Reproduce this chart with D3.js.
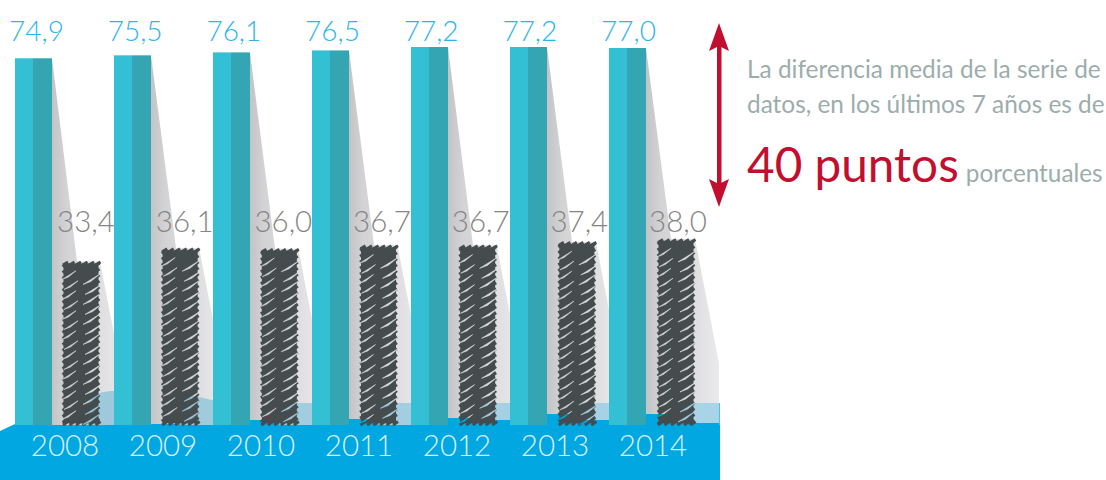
<!DOCTYPE html>
<html>
    <head>
        <meta charset="utf-8">
        <style>
          html, body { margin: 0; padding: 0; background: #fff; }
          svg { display: block; }
          text { font-family: Lato, "Open Sans", sans-serif; }
        </style>
    </head>
    <body>
        <svg width="1106" height="480"></svg>
        <script src="https://d3js.org/d3.v7.min.js"></script>
        <script>
          var years = ["2008", "2009", "2010", "2011", "2012", "2013", "2014"];
          var topValues = [74.9, 75.5, 76.1, 76.5, 77.2, 77.2, 77.0];
          var lowValues = [33.4, 36.1, 36.0, 36.7, 36.7, 37.4, 38.0];
          // ground level seen left and right of each dark column, in pixels
          var floorLeft = [425, 424, 420, 419, 418, 414, 414];
          var floorRight = [425, 425, 425, 425, 420, 420, 423];

          var svg = d3.select("svg");
          var fmt = function(v) { return v.toFixed(1).replace(".", ","); };

          // Scales
          var x = d3.scalePoint().domain(years).range([15, 609]);
          var xLow = d3.scalePoint().domain(years).range([62, 657]);
          var xYear = d3.scalePoint().domain(years).range([65, 653]);
          var xTopLabel = d3.scalePoint().domain(years).range([36.5, 628.5]);
          var xLowLabel = d3.scalePoint().domain(years).range([86, 678]);
          var y = d3.scaleLinear().domain([0, 77.2]).range([425, 47]);

          var barW = 37, lowW = 38;
          var defs = svg.append("defs");

          var grad = defs.append("linearGradient").attr("id", "shade");
          grad.append("stop").attr("offset", 0).attr("stop-color", "#c3c4c6");
          grad.append("stop").attr("offset", 0.2).attr("stop-color", "#d3d3d5");
          grad.append("stop").attr("offset", 0.7).attr("stop-color", "#e0e0e2");
          grad.append("stop").attr("offset", 1).attr("stop-color", "#eaeaec");

          var lightGrad = defs.append("linearGradient").attr("id", "water");
          lightGrad.append("stop").attr("offset", 0).attr("stop-color", "#9ec9db");
          lightGrad.append("stop").attr("offset", 1).attr("stop-color", "#a9d3e6");

          // Shadows of both columns, one polygon per year
          svg.append("g").selectAll("path").data(years).join("path")
              .attr("fill", "url(#shade)")
              .attr("d", function(d, i) {
                var r = x(d) + barW;
                var lowTop = y(lowValues[i]);
                var lowRight = xLow(d) + lowW;
                return d3.line()([
                  [r, y(topValues[i])],
                  [r + 25, lowTop],
                  [lowRight, lowTop],
                  [lowRight + 24, lowTop + 124],
                  [lowRight + 24, 425],
                  [r, 425]
                ]);
              });

          // Pale water behind, only visible right of each dark column
          var clip = defs.append("clipPath").attr("id", "waterClip");
          clip.selectAll("rect").data(years).join("rect")
              .attr("x", function(d) { return xLow(d) + lowW / 2; })
              .attr("y", 380)
              .attr("width", function(d, i) { return i < 6 ? 60 : 38 + 5; })
              .attr("height", 60);

          var wave = [[76, 425], [85, 407], [100, 393], [114, 391], [150, 392], [199, 397], [213, 400], [260, 403], [719, 403], [719, 425]];
          svg.append("path")
              .attr("clip-path", "url(#waterClip)")
              .attr("fill", "url(#water)")
              .attr("d", d3.line().curve(d3.curveMonotoneX)(wave) + "Z");

          // Blue ground
          var ground = svg.append("g").attr("fill", "#00a7e1");
          ground.append("path")
              .attr("d", d3.line()([[0, 431], [15, 424], [15, 425], [720, 425], [720, 480], [0, 480]]));
          ground.selectAll(".left").data(years).join("rect")
              .attr("class", "left")
              .attr("x", function(d) { return x(d); })
              .attr("y", function(d, i) { return floorLeft[i]; })
              .attr("width", function(d) { return xLow(d) + lowW / 2 - x(d); })
              .attr("height", function(d, i) { return 426 - floorLeft[i]; });
          ground.selectAll(".right").data(years).join("rect")
              .attr("class", "right")
              .attr("x", function(d) { return xLow(d) + lowW / 2; })
              .attr("y", function(d, i) { return floorRight[i]; })
              .attr("width", function(d, i) { return i < 6 ? 50 : 720 - xLow(d) - lowW / 2; })
              .attr("height", function(d, i) { return 426 - floorRight[i]; });
          ground.append("rect")
              .attr("x", 719).attr("y", 403).attr("width", 1).attr("height", 22)
              .attr("fill", "#4dc0e8");

          // Tall columns, two tones
          var tall = svg.append("g");
          tall.selectAll(".front").data(years).join("rect")
              .attr("class", "front")
              .attr("x", function(d) { return x(d); })
              .attr("y", function(d, i) { return y(topValues[i]); })
              .attr("width", 18)
              .attr("height", function(d, i) { return y(0) - y(topValues[i]); })
              .attr("fill", "#33c0d4");
          tall.selectAll(".side").data(years).join("rect")
              .attr("class", "side")
              .attr("x", function(d) { return x(d) + 18; })
              .attr("y", function(d, i) { return y(topValues[i]); })
              .attr("width", barW - 18)
              .attr("height", function(d, i) { return y(0) - y(topValues[i]); })
              .attr("fill", "#34a6b3");

          // Scribbled dark columns: solid core, toothed edges, thin slivers left open by a mask
          var sliver = function(px, py, len) {
            return "M" + px + "," + py + "L" + (px + len) + "," + (py - len * 0.62) + "L" + (px + len * 0.45) + "," + (py - len * 0.17) + "Z";
          };

          years.forEach(function(d, i) {
            var left = xLow(d);
            var topY = y(lowValues[i]);
            var rows = d3.range(topY + 5, 424, 6);

            var mask = defs.append("mask")
                .attr("id", "scribble" + i)
                .attr("maskUnits", "userSpaceOnUse")
                .attr("x", left - 6).attr("y", topY - 6)
                .attr("width", lowW + 12).attr("height", 440 - topY);
            mask.append("rect")
                .attr("x", left - 6).attr("y", topY - 6)
                .attr("width", lowW + 12).attr("height", 440 - topY)
                .attr("fill", "#fff");
            mask.selectAll("path").data(d3.range(topY + 18, 425, 5)).join("path")
                .attr("fill", "#000")
                .attr("stroke", "#000")
                .attr("stroke-width", 0.6)
                .attr("d", function(r, k) {
                  var rightCol = k % 2 === 1;
                  var shift = (k * 5) % 4;
                  return sliver(left + (rightCol ? 20 + shift : shift), r, 14 + (k * 3) % 6);
                });

            var g = svg.append("g")
                .attr("mask", "url(#scribble" + i + ")");
            g.append("rect")
                .attr("x", left + 1.5)
                .attr("y", topY + 2)
                .attr("width", lowW - 3)
                .attr("height", 421 - topY)
                .attr("fill", "#454c4e");
            // edge teeth, left and right, top and bottom
            var tooth = g.append("g").attr("stroke", "#454c4e").attr("stroke-width", 3).attr("fill", "none");
            tooth.selectAll(".l").data(rows).join("line").attr("class", "l")
                .attr("x1", left + 0.5).attr("x2", left + 6)
                .attr("y1", function(r) { return r; })
                .attr("y2", function(r) { return r - 3.5; });
            tooth.selectAll(".r").data(rows).join("line").attr("class", "r")
                .attr("x1", left + lowW - 6).attr("x2", left + lowW - 0.5)
                .attr("y1", function(r) { return r; })
                .attr("y2", function(r) { return r - 3.5; });
            var across = d3.range(left + 1, left + lowW - 4, 6.5);
            tooth.selectAll(".t").data(across).join("line").attr("class", "t")
                .attr("x1", function(c) { return c; }).attr("x2", function(c) { return c + 5; })
                .attr("y1", topY + 3.5).attr("y2", topY + 0.5);
            tooth.selectAll(".b").data(across).join("line").attr("class", "b")
                .attr("x1", function(c) { return c; }).attr("x2", function(c) { return c + 5; })
                .attr("y1", 425).attr("y2", 421.5);
          });

          // Value and year labels
          svg.append("g").selectAll("text").data(years).join("text")
              .attr("x", function(d) { return xTopLabel(d); })
              .attr("y", 41)
              .attr("text-anchor", "middle")
              .attr("font-size", 28)
              .attr("font-weight", 300)
              .attr("fill", "#2db5ea")
              .text(function(d, i) { return fmt(topValues[i]); });

          svg.append("g").selectAll("text").data(years).join("text")
              .attr("x", function(d) { return xLowLabel(d); })
              .attr("y", 232)
              .attr("text-anchor", "middle")
              .attr("font-size", 29.5)
              .attr("font-weight", 300)
              .attr("fill", "#858585")
              .text(function(d, i) { return fmt(lowValues[i]); });

          svg.append("g").selectAll("text").data(years).join("text")
              .attr("x", function(d) { return xYear(d); })
              .attr("y", 456)
              .attr("text-anchor", "middle")
              .attr("font-size", 29.5)
              .attr("font-weight", 300)
              .attr("fill", "#d9f1fb")
              .text(function(d) { return d; });

          // Red arrow
          var arrow = svg.append("g").attr("fill", "#c20f2f");
          arrow.append("rect").attr("x", 717).attr("y", 40).attr("width", 4.5).attr("height", 150);
          arrow.append("path").attr("d", d3.line()([[719, 23], [729, 51], [719, 46], [709, 51]]) + "Z");
          arrow.append("path").attr("d", d3.line()([[719, 207], [729, 179], [719, 184], [709, 179]]) + "Z");

          // Note
          svg.append("text").attr("x", 747).attr("y", 78)
              .attr("font-size", 24.4).attr("fill", "#9cadac")
              .text("La diferencia media de la serie de");
          svg.append("text").attr("x", 747).attr("y", 113)
              .attr("font-size", 24.4).attr("fill", "#9cadac")
              .text("datos, en los últimos 7 años es de");
          var big = svg.append("text").attr("x", 747).attr("y", 182);
          big.append("tspan").attr("font-size", 47.7).attr("fill", "#c20f2f").text("40 puntos");
          big.append("tspan").attr("font-size", 24.3).attr("fill", "#9cadac").attr("dx", 7).text("porcentuales");
        </script>
    </body>
</html>
